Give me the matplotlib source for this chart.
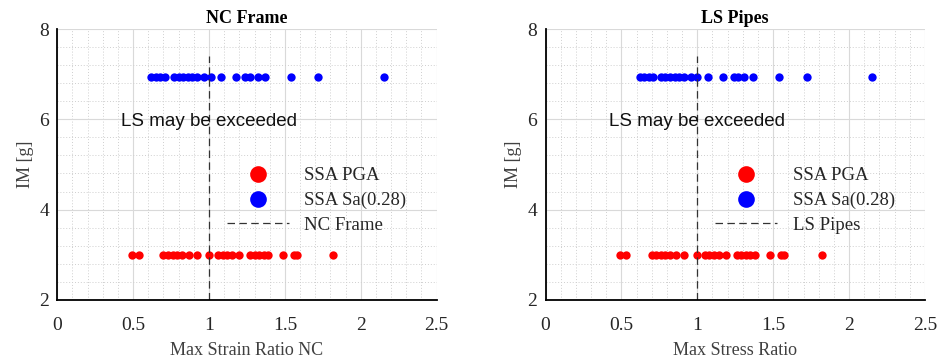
import matplotlib.pyplot as plt
from matplotlib.ticker import MultipleLocator
import numpy as np

# x positions (same for both panels, within reading error)
pga_nc = [0.49, 0.54, 0.70, 0.73, 0.76, 0.79, 0.82, 0.87, 0.92, 1.00, 1.06, 1.09,
          1.12, 1.15, 1.20, 1.27, 1.30, 1.33, 1.36, 1.39, 1.49, 1.56, 1.58, 1.82]
sa_nc = [0.62, 0.65, 0.68, 0.71, 0.77, 0.80, 0.83, 0.86, 0.89, 0.92, 0.97, 1.01,
         1.08, 1.18, 1.24, 1.27, 1.32, 1.37, 1.54, 1.72, 2.15]
pga_ls = [0.49, 0.53, 0.70, 0.73, 0.76, 0.79, 0.82, 0.86, 0.91, 1.00, 1.05, 1.08,
          1.11, 1.14, 1.19, 1.26, 1.29, 1.32, 1.35, 1.38, 1.48, 1.55, 1.57, 1.82]
sa_ls = [0.62, 0.65, 0.68, 0.71, 0.76, 0.79, 0.82, 0.85, 0.88, 0.91, 0.96, 1.00,
         1.07, 1.17, 1.24, 1.27, 1.31, 1.37, 1.54, 1.72, 2.15]
im_pga = 3.0
im_sa = 6.93

panels = [
    ("NC Frame", "Max Strain Ratio NC", pga_nc, sa_nc),
    ("LS Pipes", "Max Stress Ratio", pga_ls, sa_ls),
]

serif = "Liberation Serif"
fig = plt.figure(figsize=(9.39, 3.63), dpi=100)
lefts = [0.061, 0.581]

for left, (title, xlabel, pga, sa) in zip(lefts, panels):
    ax = fig.add_axes([left, 0.174, 0.404, 0.746])
    ax.plot(pga, np.full(len(pga), im_pga), "o", color="#ff0000", ms=6, mec="none", label="SSA PGA")
    ax.plot(sa, np.full(len(sa), im_sa), "o", color="#0000ff", ms=6, mec="none", label="SSA Sa(0.28)")
    ax.plot([1, 1], [2, 7.4], "--", color="#333333", lw=0.9, dashes=(6, 3.5), label=title)

    ax.set_xlim(0, 2.5)
    ax.set_ylim(2, 8)
    ax.xaxis.set_minor_locator(MultipleLocator(0.1))
    ax.yaxis.set_major_locator(MultipleLocator(2))
    ax.yaxis.set_minor_locator(MultipleLocator(0.4))
    ax.set_xticks([0, 0.5, 1, 1.5, 2, 2.5], ["0", "0.5", "1", "1.5", "2", "2.5"])
    ax.grid(True, which="major", color="#d9d9d9", lw=0.8)
    ax.grid(True, which="minor", color="#cfcfcf", lw=0.7, ls=(0, (1, 2)))
    ax.set_axisbelow(True)
    for s in ["top", "right"]:
        ax.spines[s].set_visible(False)
    for s in ["left", "bottom"]:
        ax.spines[s].set_linewidth(1.3)
    ax.tick_params(which="both", length=0, labelsize=14)
    ax.tick_params(axis="x", pad=12)
    ax.tick_params(axis="y", pad=6)
    for lab in ax.get_xticklabels() + ax.get_yticklabels():
        lab.set_fontfamily(serif)
        lab.set_color("#262626")

    ax.set_title(title, fontfamily=serif, fontweight="bold", fontsize=13, pad=4)
    ax.set_xlabel(xlabel, fontfamily=serif, fontsize=13, color="#404040", labelpad=6)
    ax.set_ylabel("IM [g]", fontfamily=serif, fontsize=13, color="#404040", labelpad=4)
    ax.text(0.42, 5.95, "LS may be exceeded", fontfamily="Liberation Sans",
            fontsize=13.5, ha="left", va="center", color="#111111")

    leg = ax.legend(loc="upper left", bbox_to_anchor=(0.402, 0.552), frameon=False,
                    markerscale=2.0, handlelength=3.3, handletextpad=0.85,
                    labelspacing=0.4, prop={"family": serif, "size": 13.5})
    for t in leg.get_texts():
        t.set_color("#262626")

fig.savefig("out.png", dpi=100)
